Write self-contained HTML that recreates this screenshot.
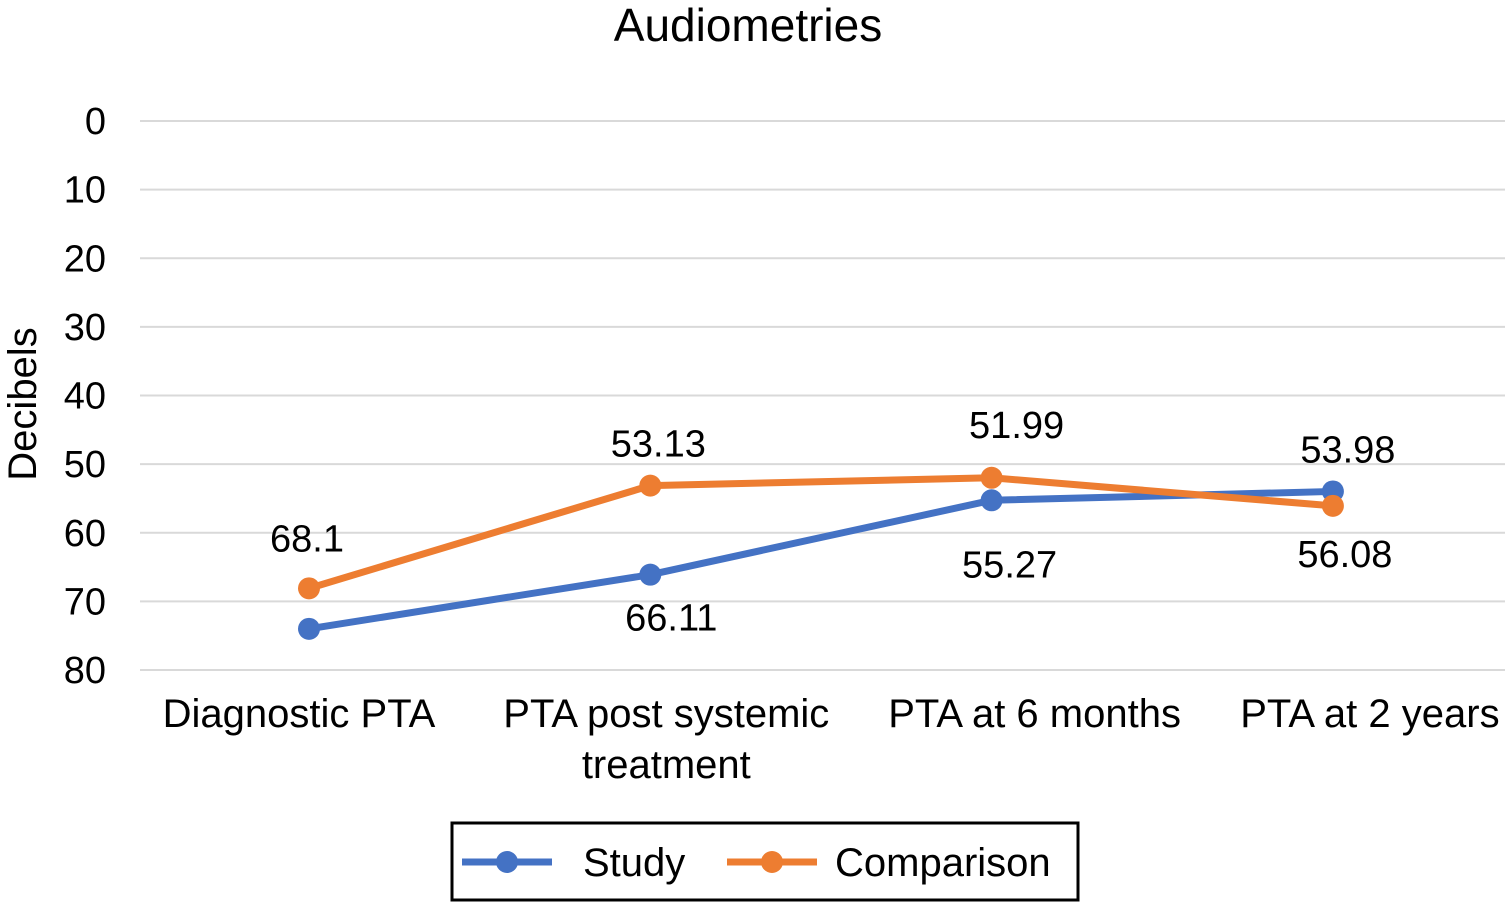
<!DOCTYPE html>
<html><head><meta charset="utf-8"><style>
body{margin:0;background:#fff;}
svg{display:block;font-family:"Liberation Sans",Arial,sans-serif;}
</style></head><body>
<svg id="chart" width="1508" height="902" viewBox="0 0 1508 902">
<text x="748" y="41" font-size="46" text-anchor="middle">Audiometries</text>
<text transform="translate(36,404) rotate(-90)" font-size="40" text-anchor="middle">Decibels</text>
<g id="grid"></g><g id="yticks"></g><g id="xticks"></g><g id="series"></g><g id="labels"></g>
<g>
<rect x="452" y="823" width="626" height="77" fill="#fff" stroke="#000" stroke-width="3"/>
<g>
<line x1="462" y1="862" x2="552" y2="862" stroke="#4472C4" stroke-width="7"/>
<circle cx="507" cy="862" r="11" fill="#4472C4"/>
<text x="583" y="876" font-size="40">Study</text></g>
<g>
<line x1="727" y1="862" x2="817" y2="862" stroke="#ED7D31" stroke-width="7"/>
<circle cx="772" cy="862" r="11" fill="#ED7D31"/>
<text x="835" y="876" font-size="40">Comparison</text></g>
</g>
</svg>
<script>
const categories=[["Diagnostic PTA"],["PTA post systemic","treatment"],["PTA at 6 months"],["PTA at 2 years"]];
const studyValues=[74.0,66.11,55.27,53.98];
const comparisonValues=[68.1,53.13,51.99,56.08];
const studyLabels=["","66.11","55.27","53.98"];
const comparisonLabels=["68.1","53.13","51.99","56.08"];
const yTicks=[0,10,20,30,40,50,60,70,80];
const NS="http://www.w3.org/2000/svg";
const y=v=>121+v*6.8625;
const x=i=>309+i*341.3;
function el(tag,attrs,parent,txt){const e=document.createElementNS(NS,tag);for(const k in attrs)e.setAttribute(k,attrs[k]);if(txt!==undefined)e.textContent=txt;document.getElementById(parent).appendChild(e);return e;}
yTicks.forEach(t=>{
 const g=el("line",{x1:140,x2:1505,y1:y(t),y2:y(t),stroke:"#d9d9d9","stroke-width":2},"grid");
 
 
 const l=el("text",{x:106,y:y(t)+13,"font-size":38,"text-anchor":"end"},"yticks",String(t));
 
 
});
const xOff=[-10,16,43,37];
categories.forEach((c,i)=>{
 c.forEach((line,j)=>{
  const t=el("text",{x:x(i)+xOff[i],y:727+j*51,"font-size":40,"text-anchor":"middle"},"xticks",line);
  
  
 });
});
function drawSeries(vals,color,name){
 const p=el("polyline",{points:vals.map((v,i)=>x(i)+","+y(v)).join(" "),fill:"none",stroke:color,"stroke-width":7,"stroke-linejoin":"round"},"series");
 
 
 vals.forEach((v,i)=>{
  const c=el("circle",{cx:x(i),cy:y(v),r:11,fill:color},"series");
  
  
 });
}
drawSeries(studyValues,"#4472C4","study");
drawSeries(comparisonValues,"#ED7D31","comparison");
function drawLabels(vals,labels,dx,dy,name){
 vals.forEach((v,i)=>{
  if(!labels[i])return;
  const t=el("text",{x:x(i)+dx[i],y:y(v)+dy[i],"font-size":38,"text-anchor":"middle"},"labels",labels[i]);
  
  
 });
}
drawLabels(studyValues,studyLabels,[0,21,18,15],[0,56,77,-29],"study");
drawLabels(comparisonValues,comparisonLabels,[-2,8,25,12],[-37,-29,-40,61],"comparison");
</script>
</body></html>
